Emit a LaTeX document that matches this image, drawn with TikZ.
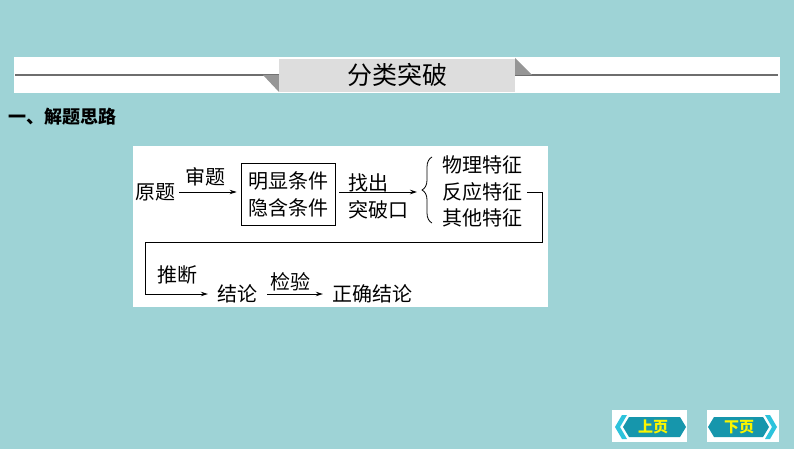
\documentclass[tikz,border=0pt]{standalone}
\usepackage{fontspec}
\setmainfont{Noto Sans CJK SC}
\usepackage{xcolor}
\usetikzlibrary{arrows.meta,positioning,calc,decorations.pathreplacing}

\definecolor{slidebg}{RGB}{158,211,214}
\definecolor{bannerline}{RGB}{110,110,110}
\definecolor{titlegray}{RGB}{221,221,221}
\definecolor{flapgray}{RGB}{150,150,150}
\definecolor{btndark}{RGB}{22,150,172}
\definecolor{btnlight}{RGB}{45,195,220}
\definecolor{btntext}{RGB}{250,245,0}

\begin{document}
\begin{tikzpicture}[x=1pt,y=-1pt,
        txt/.style={font=\fontsize{20}{27}\selectfont,inner sep=0pt},
        flow/.style={-{Stealth[length=7pt,width=4.5pt]},line width=0.8pt},
        btnlabel/.style={font=\fontsize{15}{15}\selectfont\bfseries,text=btntext,inner sep=0pt}]
        % Slide background
        \fill[slidebg] (0,0) rectangle (794,449);
        \useasboundingbox (0,0) rectangle (794,449);

        % Header banner
        \fill[white] (14,57) rectangle (780,93);
        \draw[bannerline,line width=2pt] (15,75) -- (778,75);
        \fill[flapgray] (263,75) -- (279,75) -- (279,92) -- cycle;
        \fill[flapgray] (515,58) -- (515,75) -- (532,75) -- cycle;
        \fill[titlegray] (279,59) rectangle (515,92);
        \node[font=\fontsize{25}{25}\selectfont,inner sep=0pt] (title) at (397,75) {分类突破};

        % Section heading
        \node[anchor=west,font=\fontsize{18}{18}\selectfont\bfseries,inner sep=0pt] (heading) at (8,117) {一、解题思路};

        % Flow chart panel
        \fill[white] (133,146) rectangle (548,307);

        \node[txt] (yuanti) at (155,192) {原题};
        \node[txt,draw,line width=0.8pt,minimum width=94pt,minimum height=62pt,align=center] (tiaojian) at (288,194) {明显条件\\隐含条件};
        \node[txt] (shenti) at (205,177) {审题};
        \node[txt,anchor=west] (zhaochu) at (348,183) {找出};
        \node[txt,anchor=west] (tupokou) at (348,210) {突破口};
        \coordinate (bracetip) at (417,192);

        % Feature list
        \foreach \y/\name/\label in {165/wuli/物理特征,192/fanying/反应特征,218/qita/其他特征} {
            \node[txt,anchor=west] (\name) at (442,\y) {\label};
        }
        \draw[line width=0.8pt,decorate,decoration={brace,amplitude=10pt}] (432,223) -- (432,157);

        \node[txt] (tuiduan) at (177,275) {推断};
        \node[txt] (jielun) at (237,294) {结论};
        \node[txt] (jianyan) at (290,282) {检验};
        \node[txt] (zhengque) at (372,294) {正确结论};

        % Connectors
        \draw[flow,shorten <=4pt,shorten >=4pt] (yuanti.east) -- (yuanti.east -| tiaojian.west);
        \draw[flow,shorten <=4pt] (tiaojian.east |- bracetip) -- (bracetip);
        \draw[flow,shorten >=9pt] ($(fanying.east)+(5,0)$) -- ++(15,0) |- (145,242) |- (jielun.west);
        \draw[flow,shorten <=10pt,shorten >=9pt] (jielun.east) -- (zhengque.west);

        % Page buttons
        \fill[white] (612,410) rectangle (687,442);
        \fill[btnlight] (615,427) -- (622,415) -- (627,415) -- (620,427) -- (627,439) -- (622,439) -- cycle;
        \fill[btndark] (629,417) -- (680,417) -- (686,427) -- (680,437) -- (629,437) -- (623,427) -- cycle;
        \node[btnlabel] (prevpage) at (653,427) {上页};

        \fill[white] (707,410) rectangle (779,442);
        \fill[btnlight] (777,427) -- (770,415) -- (765,415) -- (772,427) -- (765,439) -- (770,439) -- cycle;
        \fill[btndark] (714,417) -- (763,417) -- (769,427) -- (763,437) -- (714,437) -- (708,427) -- cycle;
        \node[btnlabel] (nextpage) at (739,427) {下页};
    \end{tikzpicture}
\end{document}
